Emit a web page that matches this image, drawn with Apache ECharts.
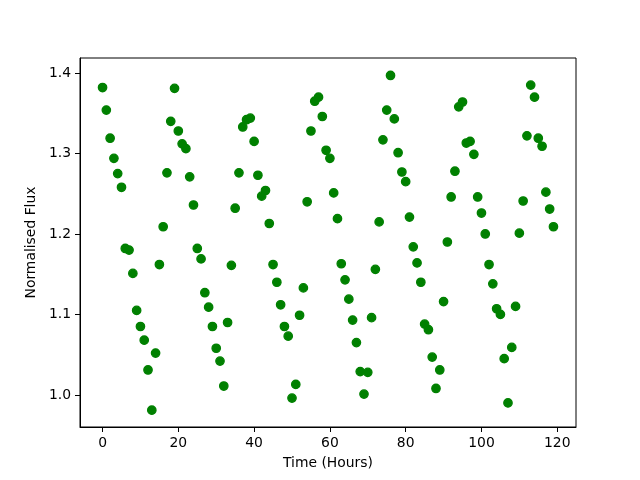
<!DOCTYPE html>
<html>
<head>
<meta charset="utf-8">
<script src="https://cdn.jsdelivr.net/npm/echarts@6/dist/echarts.min.js"></script>
<style>
  html, body { margin: 0; padding: 0; background: #fff; }
  #chart { width: 640px; height: 480px; }
</style>
</head>
<body>
<div id="chart"></div>
<script>
// hours since start
const hours = Array.from({ length: 120 }, (_, i) => i);

// normalised flux, one per hour
const flux = [
  1.382, 1.354, 1.319, 1.294, 1.275, 1.258, 1.182, 1.180, 1.151, 1.105,
  1.085, 1.068, 1.031, 0.981, 1.052, 1.162, 1.209, 1.276, 1.340, 1.381,
  1.328, 1.312, 1.306, 1.271, 1.236, 1.182, 1.169, 1.127, 1.109, 1.085,
  1.058, 1.042, 1.011, 1.090, 1.161, 1.232, 1.276, 1.333, 1.342, 1.344,
  1.315, 1.273, 1.247, 1.254, 1.213, 1.162, 1.140, 1.112, 1.085, 1.073,
  0.996, 1.013, 1.099, 1.133, 1.240, 1.328, 1.365, 1.370, 1.346, 1.304,
  1.294, 1.251, 1.219, 1.163, 1.143, 1.119, 1.093, 1.065, 1.029, 1.001,
  1.028, 1.096, 1.156, 1.215, 1.317, 1.354, 1.397, 1.343, 1.301, 1.277,
  1.265, 1.221, 1.184, 1.164, 1.140, 1.088, 1.081, 1.047, 1.008, 1.031,
  1.116, 1.190, 1.246, 1.278, 1.358, 1.364, 1.313, 1.315, 1.299, 1.246,
  1.226, 1.200, 1.162, 1.138, 1.107, 1.100, 1.045, 0.990, 1.059, 1.110,
  1.201, 1.241, 1.322, 1.385, 1.370, 1.319, 1.309, 1.252, 1.231, 1.209
];

const xTicks = [0, 20, 40, 60, 80, 100, 120];
const yTicks = [1.0, 1.1, 1.2, 1.3, 1.4];

const font = 'DejaVu Sans';
const fontSize = 13.9;

const chart = echarts.init(document.getElementById('chart'));

chart.setOption({
  animation: false,
  backgroundColor: '#fff',
  grid: {
    left: 80,
    right: 64,
    top: 58,
    bottom: 53,
    show: true,
    borderColor: '#000',
    borderWidth: 1,
    backgroundColor: 'transparent'
  },
  xAxis: {
    type: 'value',
    min: -5.95,
    max: 124.95,
    name: 'Time (Hours)',
    nameLocation: 'middle',
    nameGap: 29,
    nameTextStyle: { color: '#000', fontFamily: font, fontSize: fontSize },
    axisLine: { show: true, onZero: false, lineStyle: { color: '#000', width: 1 } },
    axisTick: {
      show: true,
      length: 5,
      customValues: xTicks,
      lineStyle: { color: '#000', width: 1 }
    },
    axisLabel: {
      color: '#000',
      fontFamily: font,
      fontSize: fontSize,
      margin: 9,
      customValues: xTicks
    },
    splitLine: { show: false }
  },
  yAxis: {
    type: 'value',
    min: 0.9601,
    max: 1.4187,
    name: 'Normalised Flux',
    nameLocation: 'middle',
    nameRotate: 90,
    nameGap: 38,
    nameTextStyle: { color: '#000', fontFamily: font, fontSize: fontSize },
    axisLine: { show: true, onZero: false, lineStyle: { color: '#000', width: 1 } },
    axisTick: {
      show: true,
      length: 5,
      customValues: yTicks,
      lineStyle: { color: '#000', width: 1 }
    },
    axisLabel: {
      color: '#000',
      fontFamily: font,
      fontSize: fontSize,
      margin: 9,
      customValues: yTicks,
      formatter: (v) => v.toFixed(1)
    },
    splitLine: { show: false }
  },
  series: [
    {
      type: 'scatter',
      data: hours.map((h, i) => [h, flux[i]]),
      symbol: 'circle',
      symbolSize: 8.4,
      itemStyle: {
        color: '#008000',
        borderColor: '#008000',
        borderWidth: 1.3,
        opacity: 1
      }
    }
  ]
});
</script>
</body>
</html>
